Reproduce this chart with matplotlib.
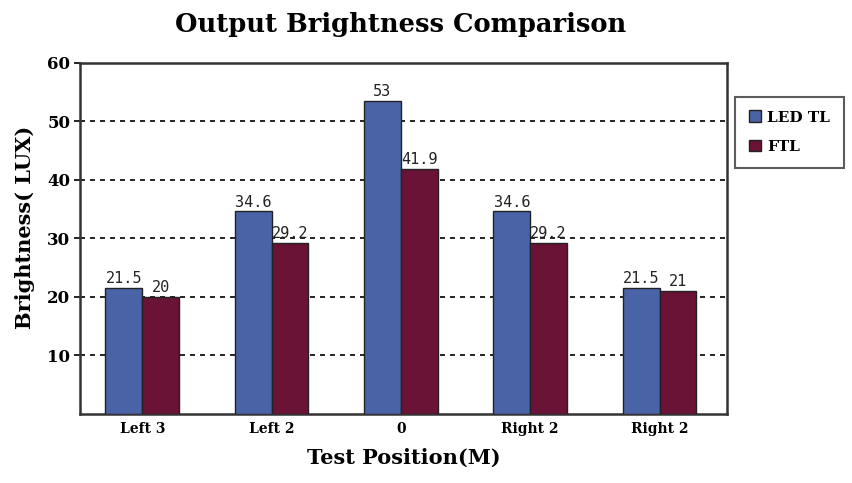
import matplotlib
matplotlib.use("Agg")
import matplotlib.pyplot as plt
import numpy as np

categories = ["Left 3", "Left 2", "0", "Right 2", "Right 2"]
led_tl = [21.5, 34.6, 53.5, 34.6, 21.5]
ftl = [20, 29.2, 41.9, 29.2, 21]
led_labels = ["21.5", "34.6", "53", "34.6", "21.5"]
ftl_labels = ["20", "29.2", "41.9", "29.2", "21"]
yticks = [10, 20, 30, 40, 50, 60]

blue = "#4a62a6"
maroon = "#6a1337"

fig = plt.figure(figsize=(8.53, 4.83), dpi=100)
ax = fig.add_axes([0.094, 0.143, 0.758, 0.727])

x = np.arange(len(categories))
w = 0.285
b1 = ax.bar(x - w / 2, led_tl, w, color=blue, edgecolor="#222222", linewidth=1.0, label="LED TL", zorder=3)
b2 = ax.bar(x + w / 2, ftl, w, color=maroon, edgecolor="#222222", linewidth=1.0, label="FTL", zorder=3)

for xi, v, t in zip(x - w / 2, led_tl, led_labels):
    ax.text(xi, v + 0.3, t, ha="center", va="bottom", fontsize=11, family="DejaVu Sans Mono", color="#222222")
for xi, v, t in zip(x + w / 2, ftl, ftl_labels):
    ax.text(xi, v + 0.3, t, ha="center", va="bottom", fontsize=11, family="DejaVu Sans Mono", color="#222222")

ax.set_xlim(-0.48, len(categories) - 0.48)
ax.set_ylim(0, 60)
ax.set_yticks(yticks)
ax.set_xticks(x)
ax.set_xticklabels(categories, family="DejaVu Serif", fontweight="bold", fontsize=10)
for lab in ax.get_yticklabels():
    lab.set_family("DejaVu Serif")
    lab.set_fontweight("bold")
    lab.set_fontsize(12)
ax.tick_params(axis="x", length=0, pad=6)
ax.tick_params(axis="y", length=4, width=1.2, pad=3)

for yv in yticks[:-1]:
    ax.axhline(yv, color="black", linestyle=(0, (3, 3)), linewidth=1.2, zorder=1)

for s in ax.spines.values():
    s.set_linewidth(1.8)
    s.set_color("#333333")

ax.set_ylabel("Brightness( LUX)", family="DejaVu Serif", fontweight="bold", fontsize=15)
ax.yaxis.set_label_coords(-0.07, 0.53)
ax.set_xlabel("Test Position(M)", family="DejaVu Serif", fontweight="bold", fontsize=15, labelpad=8)
fig.text(0.47, 0.95, "Output Brightness Comparison", family="DejaVu Serif", fontweight="heavy",
         fontsize=18.5, ha="center", va="center")

leg = fig.legend(handles=[b1, b2], labels=["LED TL", "FTL"], loc="upper left",
                 bbox_to_anchor=(0.862, 0.80), frameon=True, fancybox=False,
                 prop={"family": "DejaVu Serif", "weight": "bold", "size": 11},
                 handlelength=0.8, handleheight=0.8, handletextpad=0.4,
                 borderpad=0.9, labelspacing=1.0, borderaxespad=0)
leg.get_frame().set_edgecolor("#333333")
leg.get_frame().set_linewidth(1.5)

fig.savefig("out.png", dpi=100)
